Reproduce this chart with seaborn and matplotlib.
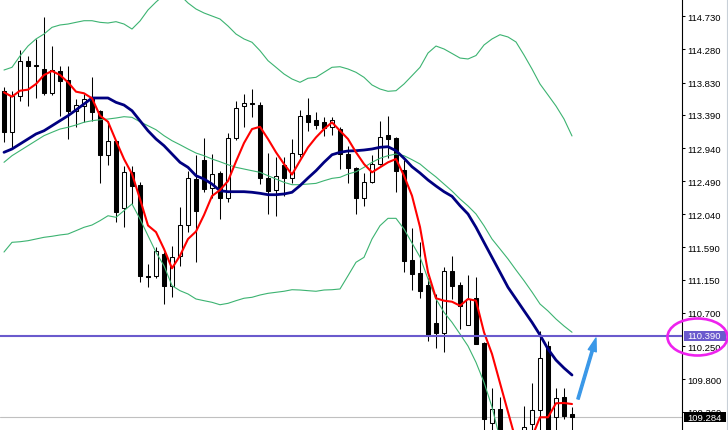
import numpy as np
import pandas as pd
import matplotlib
matplotlib.use("Agg")
import matplotlib.pyplot as plt
import matplotlib.transforms as mtransforms
from matplotlib.patches import Rectangle, Ellipse, FancyArrowPatch
from matplotlib.lines import Line2D
import seaborn as sns

# ---------------- data (prices) ----------------
opens = [113.715, 113.154, 113.643, 114.127, 114.068, 114.014, 113.684, 113.991, 113.864, 113.447,
         113.507, 113.616, 113.439, 112.849, 113.031, 112.122, 112.610, 112.438, 111.208, 111.197,
         111.501, 111.070, 111.478, 111.899, 112.518, 112.777, 112.393, 112.601, 112.265, 113.072,
         113.515, 113.552, 113.524, 112.528, 112.375, 112.709, 112.528, 112.865, 113.389, 113.321,
         113.297, 113.222, 113.198, 112.854, 112.665, 112.258, 112.483, 112.723, 113.117, 113.072,
         112.642, 111.418, 111.242, 111.079, 110.563, 110.427, 111.274, 111.079, 110.540, 110.899,
         110.292, 109.200, 109.394, 109.090, 108.960, 109.055, 109.190, 109.374, 110.250, 109.292,
         109.551, 109.333]
highs = [113.769, 113.719, 114.276, 114.195, 114.422, 114.716, 114.330, 114.059, 114.059, 113.606,
         113.674, 113.901, 113.457, 113.311, 113.049, 112.699, 112.699, 112.483, 111.365, 111.592,
         111.528, 111.614, 112.135, 112.632, 112.849, 113.072, 112.859, 112.628, 113.140, 113.583,
         113.674, 113.742, 113.565, 112.872, 112.814, 112.818, 113.063, 113.457, 113.620, 113.425,
         113.361, 113.368, 113.226, 112.967, 112.678, 112.601, 112.845, 113.311, 113.371, 113.090,
         112.777, 111.850, 111.668, 111.170, 110.957, 111.320, 111.469, 111.124, 111.221, 111.194,
         110.306, 109.676, 109.553, 109.100, 109.090, 109.435, 109.741, 110.454, 110.318, 109.680,
         109.680, 109.417]
lows = [113.022, 112.927, 113.583, 113.515, 113.616, 113.661, 113.661, 113.379, 113.063, 113.226,
        113.293, 113.311, 112.460, 112.713, 111.931, 111.863, 112.180, 111.124, 111.048, 111.174,
        110.821, 110.912, 111.342, 111.800, 111.388, 112.343, 112.261, 111.976, 112.203, 113.053,
        113.222, 113.357, 112.453, 112.037, 112.013, 112.288, 112.464, 112.820, 113.175, 113.198,
        113.107, 113.121, 112.655, 112.460, 112.044, 112.149, 112.460, 112.710, 112.801, 112.347,
        111.252, 111.015, 110.899, 110.322, 110.221, 110.173, 110.889, 110.481, 110.536, 110.272,
        109.082, 109.082, 108.987, 108.880, 108.850, 108.987, 109.095, 109.095, 108.919, 109.082,
        109.258, 109.095]
closes = [113.158, 113.651, 114.127, 114.059, 114.048, 113.684, 114.000, 113.855, 113.447, 113.524,
          113.606, 113.434, 112.849, 113.031, 112.067, 112.610, 112.429, 111.197, 111.187, 111.546,
          111.070, 111.456, 111.899, 112.528, 112.089, 112.384, 112.587, 112.265, 113.072, 113.484,
          113.548, 113.534, 112.528, 112.361, 112.556, 112.528, 112.872, 113.371, 113.297, 113.253,
          113.212, 113.325, 112.854, 112.665, 112.261, 112.485, 112.723, 113.086, 113.063, 112.632,
          111.409, 111.228, 110.998, 110.400, 110.427, 111.274, 111.070, 110.798, 110.889, 110.279,
          109.258, 109.394, 109.095, 108.950, 109.040, 109.156, 109.374, 110.084, 108.987, 109.537,
          109.299, 109.284]

fast_ma = [113.697, 113.638, 113.719, 113.733, 113.810, 113.932, 113.987, 113.932, 113.833, 113.706,
           113.684, 113.616, 113.379, 113.297, 113.039, 112.791, 112.587, 112.248, 111.888, 111.798,
           111.569, 111.306, 111.478, 111.704, 111.806, 112.030, 112.288, 112.370, 112.492, 112.757,
           113.008, 113.198, 113.229, 113.063, 112.882, 112.723, 112.580, 112.767, 112.949, 113.085,
           113.198, 113.289, 113.175, 113.063, 112.882, 112.723, 112.610, 112.678, 112.746, 112.791,
           112.564, 112.292, 111.867, 111.252, 110.899, 110.866, 110.852, 110.798, 110.889, 110.866,
           110.437, 110.142, 109.747, 109.354, 108.960, 108.878, 109.014, 109.282, 109.282, 109.472,
           109.476, 109.462]
slow_ma = [112.882, 112.927, 112.995, 113.063, 113.131, 113.175, 113.243, 113.311, 113.379, 113.457,
           113.538, 113.620, 113.620, 113.620, 113.561, 113.524, 113.447, 113.311, 113.175, 113.063,
           112.972, 112.859, 112.746, 112.678, 112.564, 112.519, 112.451, 112.360, 112.347, 112.347,
           112.347, 112.339, 112.325, 112.306, 112.306, 112.316, 112.339, 112.429, 112.533, 112.632,
           112.746, 112.849, 112.882, 112.900, 112.904, 112.913, 112.927, 112.950, 112.958, 112.904,
           112.801, 112.686, 112.601, 112.506, 112.424, 112.347, 112.284, 112.157, 112.044, 111.863,
           111.658, 111.455, 111.252, 111.048, 110.889, 110.730, 110.572, 110.400, 110.209, 110.059,
           109.951, 109.856]
bb_mid = [112.746, 112.836, 112.904, 112.972, 113.040, 113.108, 113.154, 113.198, 113.222, 113.253,
          113.290, 113.311, 113.325, 113.334, 113.348, 113.366, 113.357, 113.297, 113.243, 113.189,
          113.108, 113.040, 112.985, 112.927, 112.872, 112.836, 112.791, 112.754, 112.713, 112.678,
          112.655, 112.632, 112.610, 112.564, 112.519, 112.474, 112.442, 112.442, 112.451, 112.460,
          112.496, 112.528, 112.542, 112.587, 112.618, 112.678, 112.746, 112.801, 112.836, 112.859,
          112.836, 112.782, 112.723, 112.632, 112.547, 112.451, 112.356, 112.248, 112.153, 112.044,
          111.884, 111.704, 111.569, 111.433, 111.283, 111.138, 110.984, 110.821, 110.726, 110.617,
          110.522, 110.437]
bb_upper = [114.000, 114.037, 114.191, 114.326, 114.422, 114.489, 114.580, 114.612, 114.625, 114.648,
            114.670, 114.670, 114.648, 114.639, 114.657, 114.625, 114.557, 114.666, 114.816, 114.924,
            115.019, 115.074, 115.019, 114.911, 114.829, 114.775, 114.734, 114.693, 114.598, 114.489,
            114.422, 114.377, 114.263, 114.127, 114.037, 113.946, 113.878, 113.833, 113.888, 113.901,
            113.969, 114.037, 114.045, 114.014, 113.969, 113.901, 113.797, 113.742, 113.711, 113.719,
            113.810, 113.923, 114.037, 114.231, 114.326, 114.286, 114.225, 114.163, 114.150, 114.197,
            114.340, 114.422, 114.480, 114.449, 114.381, 114.204, 114.014, 113.810, 113.661, 113.511,
            113.335, 113.104]
bb_lower = [111.527, 111.659, 111.667, 111.681, 111.704, 111.727, 111.741, 111.759, 111.772, 111.817,
            111.863, 111.894, 111.953, 112.020, 111.999, 112.089, 112.180, 111.976, 111.749, 111.523,
            111.341, 111.070, 111.002, 110.957, 110.889, 110.866, 110.844, 110.811, 110.830, 110.866,
            110.899, 110.912, 110.943, 110.966, 110.980, 110.994, 111.015, 111.011, 111.002, 110.994,
            111.011, 111.015, 111.025, 111.205, 111.388, 111.455, 111.704, 111.885, 111.985, 111.985,
            111.840, 111.650, 111.460, 111.161, 110.889, 110.708, 110.572, 110.413, 110.250, 110.028,
            109.757, 109.421, 108.987]

tick_values = [114.730, 114.280, 113.830, 113.390, 112.940, 112.490, 112.040,
               111.590, 111.150, 110.700, 110.250, 109.800, 109.360]
level_price = 110.390
last_price = 109.284
price_min, price_max = 109.109, 114.965

# ---------------- style ----------------
sns.set_style("white")
plt.rcParams['font.family'] = ['Liberation Sans', 'DejaVu Sans']

W, H = 728, 431
fig = plt.figure(figsize=(W / 100, H / 100), dpi=100)
fig.patch.set_facecolor("white")
ax = fig.add_axes([0, 0, 682 / W, 1])
ax.set_facecolor("white")

o = np.array(opens); h = np.array(highs); l = np.array(lows); c = np.array(closes)
idx = np.arange(len(o))

# reference lines
ax.axhline(last_price, color="#c0c0c0", lw=0.8, zorder=1)

# candles
ax.vlines(idx, l, h, color="black", linewidth=0.75, zorder=2)
bull = c >= o
bottom = np.minimum(o, c)
height = np.maximum(np.abs(c - o), 0.012)
ax.bar(idx[bull], height[bull], bottom=bottom[bull], width=0.5, color="white",
       edgecolor="black", linewidth=0.75, zorder=3)
ax.bar(idx[~bull], height[~bull], bottom=bottom[~bull], width=0.5, color="black",
       edgecolor="black", linewidth=0.75, zorder=3)

# indicator lines
green = "#3cb371"
lines_df = pd.DataFrame({"idx": idx, "fast": fast_ma, "slow": slow_ma,
                         "mid": bb_mid, "upper": bb_upper})
sns.lineplot(data=lines_df, x="idx", y="upper", color=green, linewidth=0.8, ax=ax, zorder=4)
sns.lineplot(data=lines_df, x="idx", y="mid", color=green, linewidth=0.8, ax=ax, zorder=4)
lower_df = pd.DataFrame({"idx": np.arange(len(bb_lower)), "lower": bb_lower})
sns.lineplot(data=lower_df, x="idx", y="lower", color=green, linewidth=0.8, ax=ax, zorder=4)
sns.lineplot(data=lines_df, x="idx", y="slow", color="#000080", linewidth=2.0, ax=ax, zorder=5)
sns.lineplot(data=lines_df, x="idx", y="fast", color="#ff0000", linewidth=1.5, ax=ax, zorder=6)

ax.axhline(level_price, color="#6a5acd", lw=1.5, zorder=7)

# axes
ax.set_xlim(-0.5, 84.75)
ax.set_ylim(price_min, price_max)
ax.set_xlabel(""); ax.set_ylabel("")
ax.set_xticks([])
ax.yaxis.tick_right()
ax.set_yticks(tick_values)
ax.set_yticklabels([f"{v:.3f}" for v in tick_values])
ax.tick_params(axis="y", direction="out", length=2.3, width=0.75, pad=1.2,
               labelsize=6.8, colors="black")
for s in ["left", "top", "bottom"]:
    ax.spines[s].set_visible(False)
ax.spines["right"].set_linewidth(0.8)
ax.spines["right"].set_color("black")

# price labels on the axis
trans = mtransforms.blended_transform_factory(ax.transAxes, ax.transData)
box_h = 10 / (H / (price_max - price_min))
for price, bg in [(level_price, "#6a5acd"), (last_price, "black")]:
    ax.add_patch(Rectangle((1.003, price - box_h / 2), 0.0616, box_h, transform=trans,
                           facecolor=bg, edgecolor="none", clip_on=False, zorder=20))
    ax.text(1.0075, price, f"{price:.3f}", transform=trans, color="white", fontsize=6.8,
            ha="left", va="center", clip_on=False, zorder=21)

# annotations
fig.add_artist(Ellipse((697.5 / W, 1 - 338 / H), 60 / W, 37 / H, transform=fig.transFigure,
                       fill=False, edgecolor="#ee22ee", linewidth=1.9, zorder=30))
fig.add_artist(FancyArrowPatch((578 / W, 1 - 400 / H), (596 / W, 1 - 339 / H),
                               transform=fig.transFigure,
                               arrowstyle="simple,head_length=0.95,head_width=0.6,tail_width=0.17",
                               mutation_scale=10, color="#3a98e8", shrinkA=0, shrinkB=0, zorder=30))
fig.add_artist(Line2D([726.5 / W, 726.5 / W], [0, 1], transform=fig.transFigure,
                      color="#c8d0d8", lw=0.8))

fig.savefig("out.png", dpi=100, facecolor="white")
